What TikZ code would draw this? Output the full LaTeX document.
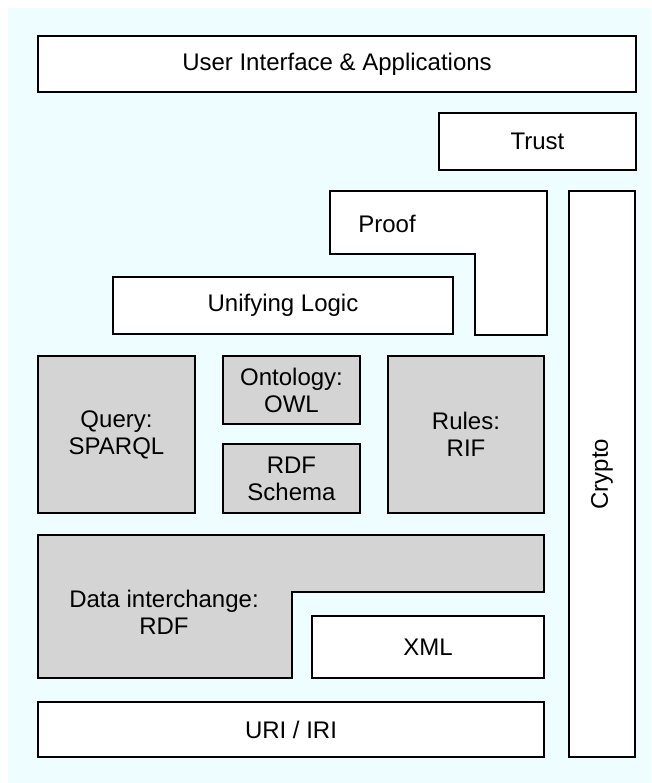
\documentclass[tikz,border=0pt]{standalone}
\usepackage{fontspec}
\setmainfont{Liberation Sans}
\usetikzlibrary{positioning}
\definecolor{skyColor}{RGB}{238,253,255}
\definecolor{coreColor}{RGB}{212,212,212}

\begin{document}
\begin{tikzpicture}[
    x=1pt, y=-1pt,
    layer/.style={rectangle, draw, line width=1.6pt, anchor=north west, outer sep=0pt, inner sep=0pt, align=center, font=\fontsize{24}{27}\selectfont},
    plain/.style={layer, fill=white},
    core/.style={layer, fill=coreColor},
    outline/.style={draw, line width=1.6pt, line join=miter},
    label/.style={font=\fontsize{24}{27}\selectfont, align=center, inner sep=0pt}
]
    % canvas
    \useasboundingbox (0,0) rectangle (651,783);
    \fill[skyColor] (8,8) rectangle (651,783);

    % top of the stack
    \node[plain, minimum width=598pt, minimum height=56pt] (ui) at (38,36) {User Interface \& Applications};
    \node[plain, minimum width=197pt, minimum height=57pt] (trust) at (439,113) {Trust};

    % proof (L shape)
    \draw[outline, fill=white] (330,191) -| (547,335) -| (475,254) -| cycle;
    \node[label] (proof) at (387,224) {Proof};

    % crypto column
    \node[plain, minimum width=66pt, minimum height=566pt] (crypto) at (569,191) {};
    \node[label, rotate=90] (cryptotext) at (crypto.center) {Crypto};

    \node[plain, minimum width=340pt, minimum height=57pt] (logic) at (113,277) {Unifying Logic};

    % middle layers
    \node[core, minimum width=157pt, minimum height=157pt] (query) at (38,356) {Query:\\SPARQL};
    \node[core, minimum width=137pt, minimum height=68pt] (owl) at (223,356) {Ontology:\\OWL};
    \node[core, minimum width=137pt, minimum height=69pt] (rdfs) at (223,444) {RDF\\Schema};
    \node[core, minimum width=156pt, minimum height=157pt] (rules) at (388,356) {Rules:\\RIF};

    % data interchange (L shape)
    \draw[outline, fill=coreColor] (38,535) -| (544,592) -| (292,678) -| cycle;
    \node[label] (rdf) at (164,612) {Data interchange:\\RDF};

    % bottom of the stack
    \node[plain, minimum width=232pt, minimum height=62pt] (xml) at (312,616) {XML};
    \node[plain, minimum width=506pt, minimum height=55pt] (uri) at (38,702) {URI / IRI};

\end{tikzpicture}
\end{document}
